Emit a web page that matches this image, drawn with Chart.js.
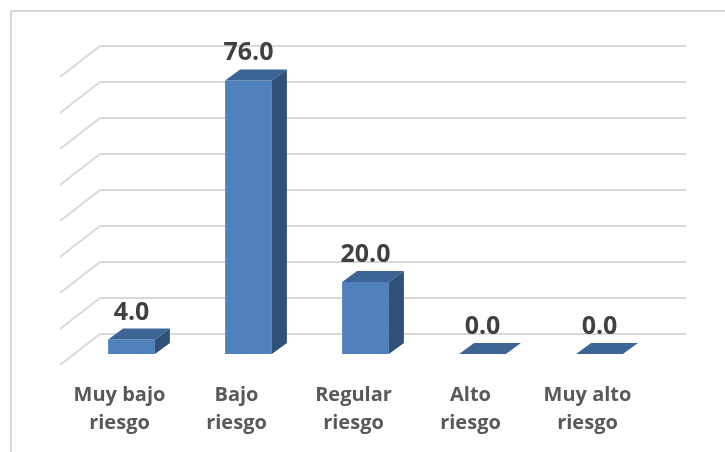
<!DOCTYPE html>
<html>
<head>
<meta charset="utf-8">
<script src="https://cdn.jsdelivr.net/npm/chart.js@4/dist/chart.umd.min.js"></script>
<style>
  html, body { margin: 0; padding: 0; background: #ffffff; }
  #wrap { width: 725px; height: 452px; }
</style>
</head>
<body>
<div id="wrap"><canvas id="chart" width="725" height="452"></canvas></div>
<script>
// Risk levels and the share of respondents in each
const categories = [["Muy bajo", "riesgo"], ["Bajo", "riesgo"], ["Regular", "riesgo"], ["Alto", "riesgo"], ["Muy alto", "riesgo"]];
const percentages = [4.0, 76.0, 20.0, 0.0, 0.0];
const gridLevels = [0, 10, 20, 30, 40, 50, 60, 70, 80];

// Colours of the three visible faces of each column
const frontColor = '#4F81BD';
const topColor = '#3C6595';
const sideColor = '#2F5179';
const gridColor = '#d9d9d9';

// 3D offsets (pixels) relative to the front plane of the columns
const depth = { dx: 15, dy: -11 };      // column depth
const wall = { dx: 27, dy: -20 };       // back wall
const floorEdge = { dx: -13, dy: 11 };  // front edge of the floor

const pseudo3d = {
  id: 'pseudo3d',
  beforeDraw(chart) {
    const ctx = chart.ctx;
    ctx.save();
    ctx.fillStyle = '#ffffff';
    ctx.fillRect(0, 0, chart.width, chart.height);
    ctx.strokeStyle = gridColor;
    ctx.lineWidth = 2;
    ctx.beginPath();
    ctx.moveTo(11, chart.height + 5);
    ctx.lineTo(11, 11);
    ctx.lineTo(chart.width + 5, 11);
    ctx.stroke();
    ctx.restore();
  },
  beforeDatasetsDraw(chart) {
    const { ctx, chartArea, scales: { y } } = chart;
    ctx.save();
    ctx.strokeStyle = gridColor;
    ctx.lineWidth = 2;
    gridLevels.forEach(v => {
      const py = y.getPixelForValue(v);
      ctx.beginPath();
      ctx.moveTo(chartArea.left + floorEdge.dx, py + floorEdge.dy);
      ctx.lineTo(chartArea.left + wall.dx, py + wall.dy);
      ctx.lineTo(chartArea.right + wall.dx + 1, py + wall.dy);
      ctx.stroke();
    });
    ctx.restore();
  },
  afterDatasetsDraw(chart) {
    const ctx = chart.ctx;
    const meta = chart.getDatasetMeta(0);
    ctx.save();
    meta.data.forEach((bar, i) => {
      const { x, y, base, width } = bar.getProps(['x', 'y', 'base', 'width'], true);
      const L = x - width / 2, R = x + width / 2;
      // top face
      ctx.fillStyle = topColor;
      ctx.beginPath();
      ctx.moveTo(L, y);
      ctx.lineTo(R, y);
      ctx.lineTo(R + depth.dx, y + depth.dy);
      ctx.lineTo(L + depth.dx, y + depth.dy);
      ctx.closePath();
      ctx.fill();
      // side face
      if (base - y > 0.5) {
        ctx.fillStyle = sideColor;
        ctx.beginPath();
        ctx.moveTo(R, y);
        ctx.lineTo(R + depth.dx, y + depth.dy);
        ctx.lineTo(R + depth.dx, base + depth.dy);
        ctx.lineTo(R, base);
        ctx.closePath();
        ctx.fill();
      }
      // value label
      ctx.fillStyle = '#404040';
      ctx.font = 'bold 25px "Open Sans"';
      ctx.textAlign = 'center';
      ctx.textBaseline = 'alphabetic';
      ctx.fillText(percentages[i].toFixed(1), x, y - 20);
    });
    ctx.restore();
  }
};

new Chart(document.getElementById('chart'), {
  type: 'bar',
  data: {
    labels: categories,
    datasets: [{
      data: percentages,
      backgroundColor: frontColor,
      borderWidth: 0,
      categoryPercentage: 1.0,
      barPercentage: 0.4
    }]
  },
  options: {
    responsive: false,
    animation: false,
    devicePixelRatio: 1,
    layout: { padding: { left: 73, right: 67, top: 66, bottom: 0 } },
    plugins: { legend: { display: false }, tooltip: { enabled: false } },
    scales: {
      y: { display: false, min: 0, max: 80 },
      x: {
        grid: { display: false, drawTicks: false },
        border: { display: false },
        ticks: {
          color: '#595959',
          font: { family: '"Open Sans"', size: 20, weight: 'bold', lineHeight: 1.4 },
          labelOffset: -12,
          padding: 27,
          maxRotation: 0,
          autoSkip: false
        },
        afterFit(scale) { scale.height = 98; }
      }
    }
  },
  plugins: [pseudo3d]
});
</script>
</body>
</html>
